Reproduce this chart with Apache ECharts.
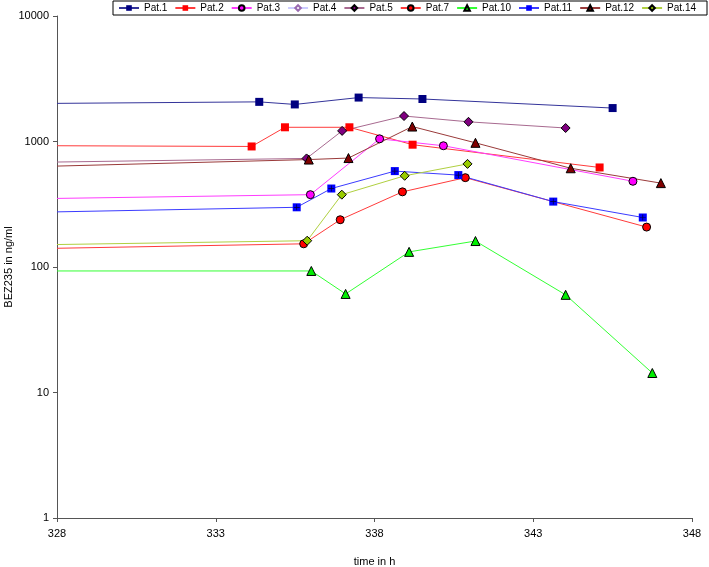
<!DOCTYPE html>
<html>
<head>
<meta charset="utf-8">
<script src="https://cdn.jsdelivr.net/npm/echarts@6/dist/echarts.min.js"></script>
<style>html,body{margin:0;padding:0;background:#fff}#c{width:709px;height:567px}</style>
</head>
<body>
<div id="c"></div>
<script>
// x tick labels (time in h)
var xTicks = [328, 333, 338, 343, 348];
// y tick labels (log)
var yTicks = [1, 10, 100, 1000, 10000];

// Each series: times (h) and concentrations (ng/ml). First point at 328 is the line entering from the left edge (no marker).
var pat1_t = [328, 334.37, 335.49, 337.50, 339.51, 345.50];
var pat1_v = [2013, 2069, 1974, 2239, 2181, 1847];
var pat2_t = [328, 334.13, 335.18, 337.21, 339.20, 345.09];
var pat2_v = [925, 913, 1298, 1298, 943, 621];
var pat3_t = [328, 335.98, 338.16, 340.17, 346.14];
var pat3_v = [352, 377, 1050, 925, 482];
var pat4_t = [];
var pat4_v = [];
var pat5_t = [328, 335.86, 336.98, 338.93, 340.96, 344.02];
var pat5_v = [686, 733, 1215, 1596, 1435, 1281];
var pat7_t = [328, 335.77, 336.92, 338.88, 340.86, 346.57];
var pat7_v = [141, 153, 238, 397, 515, 208];
var pat10_t = [328, 336.01, 337.09, 339.09, 341.18, 344.02, 346.75];
var pat10_v = [93, 93, 61, 132, 161, 60, 14.3];
var pat11_t = [328, 335.55, 336.64, 338.64, 340.64, 343.63, 346.45];
var pat11_v = [275, 299, 422, 581, 540, 332, 248];
var pat12_t = [328, 335.93, 337.18, 339.19, 341.18, 344.18, 347.02];
var pat12_v = [637, 718, 738, 1316, 976, 612, 466];
var pat14_t = [328, 335.88, 336.97, 338.95, 340.93];
var pat14_v = [151, 162, 377, 533, 663];

var names = ['Pat.1','Pat.2','Pat.3','Pat.4','Pat.5','Pat.7','Pat.10','Pat.11','Pat.12','Pat.14'];

function pts(t, v) {
  return t.map(function (x, i) {
    var item = { value: [x, v[i]] };
    if (i === 0 && x === 328) { item.symbol = 'none'; }
    return item;
  });
}

function mk(name, t, v, lineColor, fill, symbol, size, border) {
  return {
    name: name, type: 'line', data: pts(t, v),
    symbol: symbol, symbolSize: size, showSymbol: true,
    lineStyle: { color: lineColor, width: 1 },
    itemStyle: { color: fill, borderColor: border || fill, borderWidth: border ? 1 : 0 },
    emphasis: { disabled: true },
    animation: false, z: 2
  };
}

var series = [
  mk('Pat.1', pat1_t, pat1_v, '#34349a', '#000080', 'rect', 8),
  mk('Pat.2', pat2_t, pat2_v, '#ff3b3b', '#ff0000', 'rect', 8),
  mk('Pat.3', pat3_t, pat3_v, '#ff3cff', '#ff00ff', 'circle', 8, '#000'),
  mk('Pat.4', pat4_t, pat4_v, '#ccccff', '#ffffff', 'diamond', 8, '#9a6ab0'),
  mk('Pat.5', pat5_t, pat5_v, '#a86a90', '#800080', 'diamond', 9, '#000'),
  mk('Pat.7', pat7_t, pat7_v, '#ff3b3b', '#ff0000', 'circle', 8, '#000'),
  mk('Pat.10', pat10_t, pat10_v, '#33ff33', '#00ee00', 'triangle', 9, '#000'),
  mk('Pat.11', pat11_t, pat11_v, '#3b3bff', '#0000ff', 'rect', 8),
  mk('Pat.12', pat12_t, pat12_v, '#9a3a3a', '#800000', 'triangle', 9, '#000'),
  mk('Pat.14', pat14_t, pat14_v, '#b0d040', '#99cc00', 'diamond', 9, '#000')
];
// black "+" inside Pat.11 squares
series.push({
  type: 'scatter', data: pts(pat11_t, pat11_v).filter(function (d) { return !d.symbol; }),
  symbol: 'path://M4.4,0H5.6V10H4.4Z M0,4.4H10V5.6H0Z', symbolSize: 6,
  itemStyle: { color: '#000' }, silent: true, animation: false, z: 3
});

var chart = echarts.init(document.getElementById('c'), null, { renderer: 'canvas' });
chart.setOption({
  backgroundColor: '#fff',
  textStyle: { fontFamily: 'Liberation Sans, Arial, sans-serif' },
  grid: { left: 57, right: 17, top: 16, bottom: 49, containLabel: false, outerBoundsMode: 'none' },
  legend: {
    data: names, left: 113, top: 1, orient: 'horizontal', width: 640,
    padding: [2, 11, 2, 5], itemGap: 7, itemWidth: 20, itemHeight: 7,
    borderColor: '#000', borderWidth: 1, borderRadius: 0,
    formatter: '{a|{name}}',
    textStyle: { fontSize: 10, color: '#000', fontFamily: 'Liberation Sans, Arial, sans-serif',
      rich: { a: { width: 28, fontSize: 10, color: '#000', fontFamily: 'Liberation Sans, Arial, sans-serif' } } },
    selectedMode: false
  },
  xAxis: {
    type: 'value', min: 328, max: 348,
    name: 'time in h', nameLocation: 'middle', nameGap: 38, nameMoveOverlap: false,
    nameTextStyle: { fontSize: 11, color: '#000' },
    axisLine: { lineStyle: { color: '#555', width: 1 } },
    axisTick: { show: true, length: 4, lineStyle: { color: '#555' }, customValues: xTicks },
    axisLabel: { fontSize: 11, color: '#000', margin: 10, customValues: xTicks },
    splitLine: { show: false }
  },
  yAxis: {
    type: 'log', logBase: 10, min: 1, max: 10000,
    name: 'BEZ235 in ng/ml', nameLocation: 'middle', nameGap: 43, nameRotate: 90, nameMoveOverlap: false,
    nameTextStyle: { fontSize: 11, color: '#000' },
    axisLine: { show: true, lineStyle: { color: '#555', width: 1 } },
    axisTick: { show: true, length: 4, lineStyle: { color: '#555' }, customValues: yTicks },
    axisLabel: { fontSize: 11, color: '#000', margin: 8, customValues: yTicks,
      formatter: function (v) { return String(Math.round(v)); } },
    splitLine: { show: false }
  },
  series: series
});
</script>
</body>
</html>
